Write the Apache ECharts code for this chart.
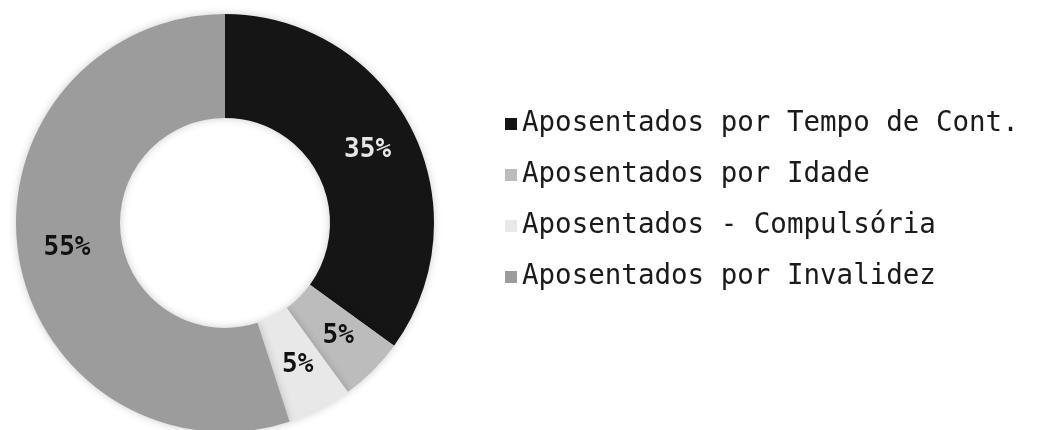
<!DOCTYPE html>
<html>
<head>
<meta charset="utf-8">
<script src="https://cdn.jsdelivr.net/npm/echarts@6/dist/echarts.min.js"></script>
<style>
  html, body { margin: 0; padding: 0; background: #fff; }
  #chart { width: 1047px; height: 430px; }
</style>
</head>
<body>
<div id="chart"></div>
<script>
// categorias e valores (%)
const categories = [
  'Aposentados por Tempo de Cont.',
  'Aposentados por Idade',
  'Aposentados - Compulsória',
  'Aposentados por Invalidez'
];
const values = [35, 5, 5, 55];
const colors = ['#151515', '#bcbcbc', '#e8e8e8', '#9c9c9c'];
const labelColors = ['#e6e6e6', '#111', '#111', '#111'];

const chart = echarts.init(document.getElementById('chart'));

const option = {
  backgroundColor: '#fff',
  animation: false,
  legend: {
    orient: 'vertical',
    left: 500,
    top: 105,
    itemWidth: 12,
    itemHeight: 12,
    itemGap: 23,
    icon: 'rect',
    textStyle: {
      fontFamily: 'DejaVu Sans Mono',
      fontSize: 27.5,
      color: '#1a1a1a',
      padding: [0, 0, 0, 0]
    },
    data: categories
  },
  series: [
    {
      type: 'pie',
      center: [225, 223],
      radius: [105, 209],
      startAngle: 90,
      clockwise: true,
      label: {
        show: true,
        position: 'inside',
        formatter: '{c}%',
        fontFamily: 'DejaVu Sans Mono',
        fontWeight: 'bold',
        fontSize: 26
      },
      labelLine: { show: false },
      itemStyle: {
        shadowBlur: 8,
        shadowColor: 'rgba(0, 0, 0, 0.2)'
      },
      data: categories.map((name, i) => ({
        name,
        value: values[i],
        itemStyle: { color: colors[i] },
        label: { color: labelColors[i] }
      }))
    }
  ]
};

chart.setOption(option);
</script>
</body>
</html>
